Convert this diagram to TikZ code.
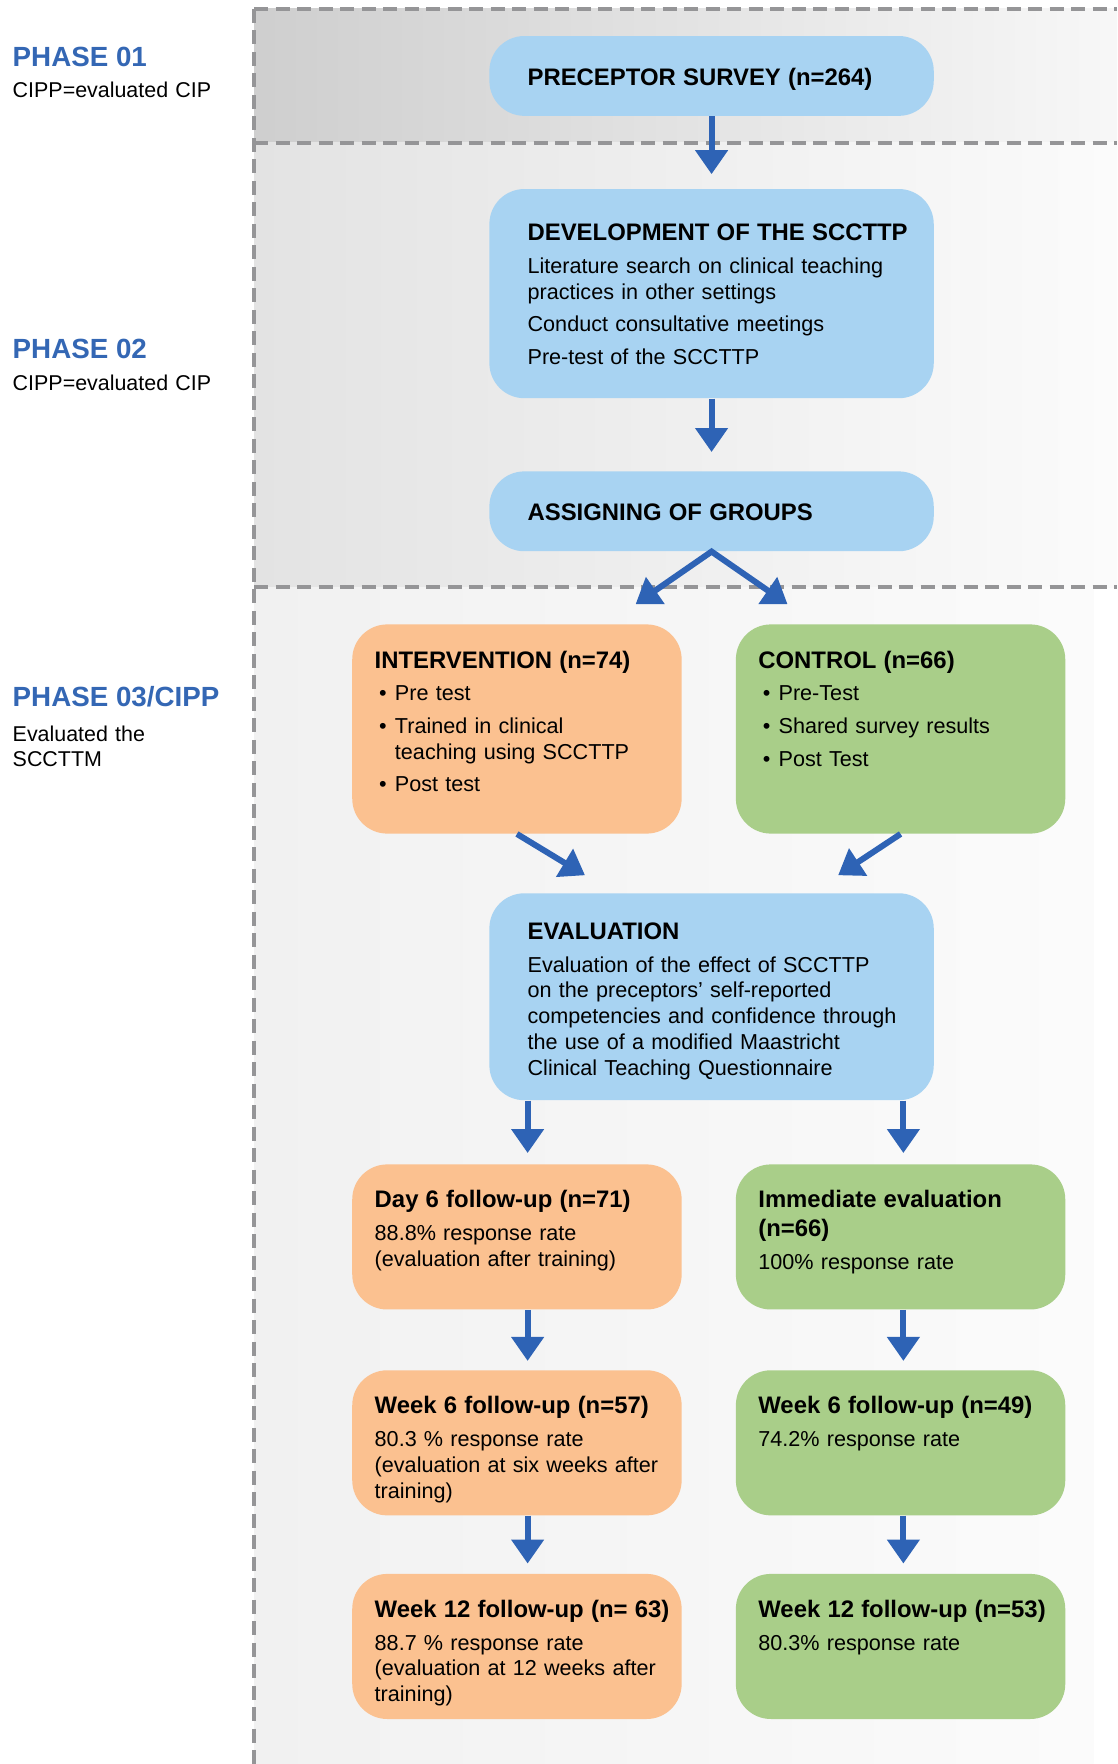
\documentclass[tikz,border=0pt]{standalone}
\usepackage{fontspec}
\setmainfont{Liberation Sans}
\usetikzlibrary{arrows.meta}

\definecolor{boxblue}{HTML}{A8D3F2}
\definecolor{boxorange}{HTML}{FBC190}
\definecolor{boxgreen}{HTML}{A9CE89}
\definecolor{arrowblue}{HTML}{2E63B5}
\definecolor{phaseblue}{HTML}{3467B4}
\definecolor{framegray}{HTML}{959597}

\newcommand{\hd}[1]{\mbox{\fontsize{13.6}{14.72}\selectfont\bfseries #1}}
\newcommand{\bul}{\makebox[0.405cm][l]{\hspace{0.09cm}\textbullet}}

\begin{document}
\begin{tikzpicture}[
            x=0.0225cm, y=-0.0225cm,
            frame/.style={draw=framegray, line width=0.085cm, dash pattern=on 0.28cm off 0.15cm},
            box/.style={rounded corners=0.7cm, inner ysep=0pt, align=left, text=black, font=\fontsize{12.3}{14.72}\selectfont},
            bluebox/.style={box, fill=boxblue, text width=7.36cm, inner xsep=0.765cm},
            orangebox/.style={box, fill=boxorange, text width=5.69cm, inner xsep=0.45cm},
            greenbox/.style={box, fill=boxgreen, text width=5.69cm, inner xsep=0.45cm},
            flow/.style={draw=arrowblue, line width=0.12cm, -{Triangle[width=0.63cm,length=0.48cm]}},
            split/.style={flow, {Triangle[width=0.63cm,length=0.48cm]}-{Triangle[width=0.63cm,length=0.48cm]}, line join=miter},
            phase/.style={anchor=base west, inner xsep=0pt, text=phaseblue, font=\fontsize{15.8}{18}\selectfont\bfseries},
            phasenote/.style={anchor=base west, inner xsep=0pt, align=left, text width=4.5cm, font=\fontsize{12.2}{14.1}\selectfont}
        ]
            \useasboundingbox (0,0) rectangle (993,1568);
            % bands
            \shade[left color=black!19, right color=black!3] (226,8) rectangle (993,127);
            \shade[left color=black!11, right color=black!1.5] (226,127) rectangle (993,522);
            \shade[left color=black!5.5, right color=black!1.5] (226,522) rectangle (972,1568);
            % frame
            \draw[frame] (226,8) -- (993,8);
            \draw[frame] (226,127) -- (993,127);
            \draw[frame] (226,522) -- (993,522);
            \draw[frame] (226,8) -- (226,1568);
            % phases
            \node[phase] (ph1) at (11,59) {PHASE 01};
            \node[phasenote] (ph1note) at (11,87) {CIPP=evaluated CIP};
            \node[phase] (ph2) at (11,319) {PHASE 02};
            \node[phasenote] (ph2note) at (11,347) {CIPP=evaluated CIP};
            \node[phase] (ph3) at (11,628) {PHASE 03/CIPP};
            \node[phasenote] (ph3note) at (11,659) {Evaluated the\\SCCTTM};
            % boxes
            \node[bluebox, text height=0.99cm, text depth=0.6075cm] (survey) at (632.5,67.5) {\hd{PRECEPTOR SURVEY (n=264)}};
            \node[bluebox, text height=1.035cm, text depth=3.15cm] (develop) at (632.5,261) {\hd{DEVELOPMENT OF THE SCCTTP}\\[3.84pt]Literature search on clinical teaching\\practices in other settings\\[3.84pt]Conduct consultative meetings\\[3.84pt]Pre-test of the SCCTTP};
            \node[bluebox, text height=0.99cm, text depth=0.6075cm] (assign) at (632.5,454.5) {\hd{ASSIGNING OF GROUPS}};
            \node[orangebox, text height=0.8775cm, text depth=3.3075cm] (interv) at (459.5,648) {\hd{INTERVENTION (n=74)}\\[3.84pt]\bul Pre test\\[3.84pt]\bul Trained in clinical\\\hspace*{0.405cm}teaching using SCCTTP\\[3.84pt]\bul Post test};
            \node[greenbox, text height=0.8775cm, text depth=3.3075cm] (control) at (800.5,648) {\hd{CONTROL (n=66)}\\[3.84pt]\bul Pre-Test\\[3.84pt]\bul Shared survey results\\[3.84pt]\bul Post Test};
            \node[bluebox, text height=0.9225cm, text depth=3.2175cm] (evalu) at (632.5,886) {\hd{EVALUATION}\\[3.84pt]Evaluation of the effect of SCCTTP\\on the preceptors’ self-reported\\\mbox{competencies and confidence through}\\the use of a modified Maastricht\\Clinical Teaching Questionnaire};
            \node[orangebox, text height=0.87cm, text depth=2.0325cm] (day6) at (459.5,1099.5) {\hd{Day 6 follow-up (n=71)}\\[3.84pt]88.8\% response rate\\(evaluation after training)};
            \node[greenbox, text height=0.87cm, text depth=2.0325cm] (immed) at (800.5,1099.5) {\hd{Immediate evaluation}\\[1.3pt]\hd{(n=66)}\\[4.5pt]100\% response rate};
            \node[orangebox, text height=0.87cm, text depth=2.0325cm] (wk6a) at (459.5,1282.5) {\hd{Week 6 follow-up (n=57)}\\[3.84pt]80.3 \% response rate\\(evaluation at six weeks after\\training)};
            \node[greenbox, text height=0.87cm, text depth=2.0325cm] (wk6b) at (800.5,1282.5) {\hd{Week 6 follow-up (n=49)}\\[3.84pt]74.2\% response rate};
            \node[orangebox, text height=0.87cm, text depth=2.0325cm] (wk12a) at (459.5,1463.5) {\hd{Week 12 follow-up (n= 63)}\\[3.84pt]88.7 \% response rate\\(evaluation at 12 weeks after\\training)};
            \node[greenbox, text height=0.87cm, text depth=2.0325cm] (wk12b) at (800.5,1463.5) {\hd{Week 12 follow-up (n=53)}\\[3.84pt]80.3\% response rate};
            % arrow ends
            \coordinate (toint) at (565,537);
            \coordinate (toctl) at (700,537);
            \coordinate (inteval) at (520,778);
            \coordinate (ctleval) at (745,778);
            \coordinate (lcol) at (469,0);
            \coordinate (rcol) at (803,0);
            % arrows
            \draw[flow, shorten >=0.29cm] (survey) -- (develop);
            \draw[flow, shorten >=0.38cm] (develop) -- (assign);
            \draw[split] (toint) -- (assign.south) -- (toctl);
            \draw[flow] (interv.south) -- (inteval);
            \draw[flow] (control.south) -- (ctleval);
            \draw[flow, shorten >=0.22cm] (evalu.south -| lcol) -- (day6.north -| lcol);
            \draw[flow, shorten >=0.22cm] (evalu.south -| rcol) -- (immed.north -| rcol);
            \draw[flow, shorten >=0.18cm] (day6.south -| lcol) -- (wk6a.north -| lcol);
            \draw[flow, shorten >=0.18cm] (immed.south -| rcol) -- (wk6b.north -| rcol);
            \draw[flow, shorten >=0.2cm] (wk6a.south -| lcol) -- (wk12a.north -| lcol);
            \draw[flow, shorten >=0.2cm] (wk6b.south -| rcol) -- (wk12b.north -| rcol);
        \end{tikzpicture}
\end{document}
